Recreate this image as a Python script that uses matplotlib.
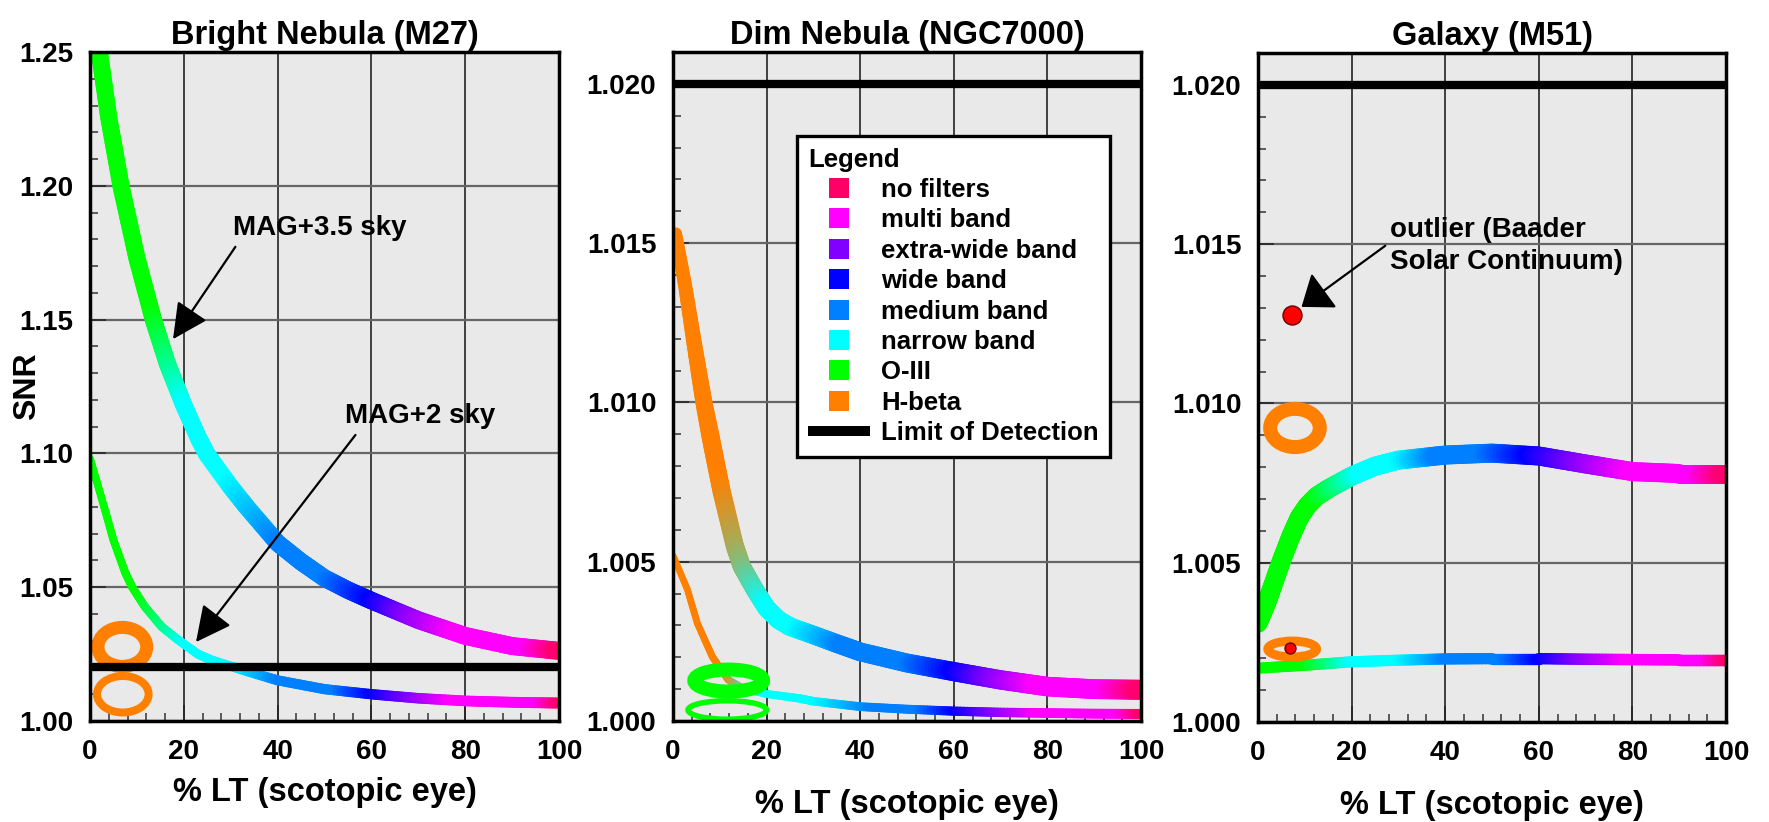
import numpy as np
import matplotlib
matplotlib.use("Agg")
import matplotlib.pyplot as plt
from matplotlib.collections import LineCollection
from matplotlib.patches import Ellipse
from matplotlib.lines import Line2D
from matplotlib.ticker import MultipleLocator, FormatStrFormatter
from matplotlib.colors import to_rgb

plt.rcParams['font.family'] = ['Liberation Sans', 'DejaVu Sans']
plt.rcParams['font.weight'] = 'bold'

# ---------------- data ----------------
titles = ["Bright Nebula (M27)", "Dim Nebula (NGC7000)", "Galaxy (M51)"]
x_label = "% LT (scotopic eye)"
y_label = "SNR"

filter_names = ["no filters", "multi band", "extra-wide band", "wide band",
                "medium band", "narrow band", "O-III", "H-beta"]
filter_keys = ["none", "multi", "extra", "wide", "medium", "narrow", "oiii", "hbeta"]
filter_colors = ["#ff0066", "#ff00ff", "#8000ff", "#0000ff",
                 "#0080ff", "#00ffff", "#00ff00", "#ff8000"]
limit_label = "Limit of Detection"
limit_of_detection = 1.02

# Bright nebula, MAG+3.5 sky (upper) and MAG+2 sky (lower)
bright_hi_x = [0, 2, 4, 6.6, 10, 13.5, 16.5, 20, 23.2, 25, 30, 33.4, 40, 45, 50, 55, 60,
               70, 80, 90, 100]
bright_hi_snr = [1.273, 1.250, 1.2255, 1.200, 1.173, 1.150, 1.1335, 1.118, 1.1055, 1.0995,
                 1.0875, 1.080, 1.0665, 1.0595, 1.0534, 1.0489, 1.0450, 1.0377, 1.0318,
                 1.0280, 1.0262]
bright_lo_x = [0, 3, 5, 7.5, 9, 11.7, 15.3, 18.8, 23, 26, 29, 34, 40, 50, 60, 70, 80, 90, 100]
bright_lo_snr = [1.0982, 1.0801, 1.0676, 1.0555, 1.050, 1.0427, 1.0352, 1.0303, 1.0250,
                 1.0227, 1.0210, 1.0183, 1.0152, 1.0119, 1.0100, 1.0085, 1.0075, 1.0070,
                 1.0067]

# Dim nebula
dim_hi_x = [0.6, 2.6, 4.85, 6.6, 8.6, 10.4, 13.2, 14.7, 17.5, 20, 22.5, 25, 30, 35, 40,
            50, 60, 70, 80, 90, 100]
dim_hi_snr = [1.0153, 1.01366, 1.01156, 1.0100, 1.0085, 1.0072, 1.0055, 1.00485,
              1.00412, 1.00354, 1.00318, 1.00296, 1.0027, 1.00243, 1.00217, 1.00182,
              1.00155, 1.00129, 1.00108, 1.0010, 1.00098]
dim_lo_x = [0, 3.1, 5.2, 8.4, 11.8, 15, 20, 27, 30, 40, 50, 60, 70, 80, 90, 100]
dim_lo_snr = [1.0052, 1.00412, 1.00307, 1.00202, 1.00129, 1.00102, 1.00085, 1.00071,
              1.00062, 1.00045, 1.00037, 1.00031, 1.00027, 1.00025, 1.00023, 1.00022]

# Galaxy
gal_hi_x = [0, 1.85, 3.1, 4.85, 7, 8.8, 10.5, 12.5, 15, 20, 25, 30, 40, 50, 60, 70, 80,
            90, 100]
gal_hi_snr = [1.0031, 1.00374, 1.00426, 1.0050, 1.00582, 1.00641, 1.00678, 1.00708,
              1.00732, 1.00772, 1.00803, 1.00822, 1.00838, 1.00844, 1.00835, 1.0081,
              1.00786, 1.0078, 1.0078]
gal_lo_x = [0, 10, 20, 30, 40, 50, 60, 70, 80, 90, 100]
gal_lo_snr = [1.00169, 1.00178, 1.00189, 1.00194, 1.00198, 1.00199, 1.00199, 1.00197,
              1.00196, 1.00195, 1.00195]

# filter type along each curve (x position, filter key)
bright_hi_filters = [(0, "oiii"), (13, "oiii"), (20, "narrow"), (29, "narrow"), (40, "medium"),
                     (50, "medium"), (60, "wide"), (67, "extra"), (78, "multi"), (93, "multi"), (100, "none")]
bright_lo_filters = [(0, "oiii"), (10, "oiii"), (20, "narrow"), (30, "narrow"), (40, "medium"),
                     (52, "medium"), (60, "wide"), (68, "extra"), (77, "multi"), (95, "multi"), (100, "none")]
dim_hi_filters = [(0, "hbeta"), (10, "hbeta"), (20, "narrow"), (26, "narrow"), (36, "medium"),
                  (50, "medium"), (60, "wide"), (68, "extra"), (78, "multi"), (92, "multi"), (100, "none")]
dim_lo_filters = [(0, "hbeta"), (11, "hbeta"), (17, "narrow"), (30, "narrow"), (42, "medium"),
                  (52, "medium"), (60, "wide"), (68, "extra"), (78, "multi"), (95, "multi"), (100, "none")]
gal_hi_filters = [(0, "oiii"), (12, "oiii"), (22, "narrow"), (30, "narrow"), (38, "medium"),
                  (48, "medium"), (58, "wide"), (68, "extra"), (80, "multi"), (93, "multi"), (100, "none")]
gal_lo_filters = [(0, "oiii"), (10, "oiii"), (20, "narrow"), (30, "narrow"), (40, "medium"),
                  (52, "medium"), (60, "wide"), (68, "extra"), (79, "multi"), (95, "multi"), (100, "none")]

# highlighted points (ring centres) and outlier dots
bright_rings_x = [6.9, 7.0]
bright_rings_snr = [1.0277, 1.0100]
dim_rings_x = [11.9, 11.6]
dim_rings_snr = [1.00127, 1.000346]
gal_rings_x = [7.9, 7.3]
gal_rings_snr = [1.00923, 1.00229]
gal_outlier_x = [7.35, 6.8]
gal_outlier_snr = [1.01279, 1.00232]

# annotations
ann_sky35 = dict(text="MAG+3.5 sky", text_xy=(30.5, 1.1816), start=(31.0, 1.1772), tip=(17.7, 1.1427))
ann_sky2 = dict(text="MAG+2 sky", text_xy=(54.3, 1.1112), start=(56.6, 1.1069), tip=(22.6, 1.0295))
outlier_lines = ["outlier (Baader", "Solar Continuum)"]
outlier_text_x = 28.3
outlier_text_snr = [1.01523, 1.01421]
outlier_arrow_start = (27.2, 1.01495)
outlier_arrow_tip = (9.3, 1.01303)

# ---------------- styling helpers ----------------
W, H = 1769, 822
PT = 72.0 / 100.0  # px -> pt
FCOL = dict(zip(filter_keys, filter_colors))

fig = plt.figure(figsize=(W / 100, H / 100), dpi=100)


def add_axes(l, t, r, b):
    return fig.add_axes([l / W, 1 - b / H, (r - l) / W, (b - t) / H])


def draw_band(ax, xs, ys, stops, widths, nsub=14):
    xs = np.asarray(xs, float)
    ys = np.asarray(ys, float)
    px, py = [], []
    for i in range(len(xs) - 1):
        t = np.linspace(0, 1, nsub, endpoint=False)
        px.extend(xs[i] + (xs[i + 1] - xs[i]) * t)
        py.extend(ys[i] + (ys[i + 1] - ys[i]) * t)
    px.append(xs[-1])
    py.append(ys[-1])
    px = np.array(px)
    py = np.array(py)
    segs = np.stack([np.column_stack([px[:-1], py[:-1]]),
                     np.column_stack([px[1:], py[1:]])], axis=1)
    xm = 0.5 * (px[:-1] + px[1:])
    sx = [s[0] for s in stops]
    rgb = np.array([to_rgb(FCOL[s[1]]) for s in stops])
    cols = np.column_stack([np.interp(xm, sx, rgb[:, k]) for k in range(3)])
    wx = [w[0] for w in widths]
    wv = [w[1] for w in widths]
    lws = np.interp(xm, wx, wv) * PT
    lc = LineCollection(segs, colors=cols, linewidths=lws, capstyle='round',
                        joinstyle='round', zorder=3)
    ax.add_collection(lc)


def ring(ax, x, y, w, h, lw_px, color):
    ax.add_patch(Ellipse((x, y), w, h, fill=False, edgecolor=color,
                         linewidth=lw_px * PT, zorder=4))


def style_axes(ax, ylim, ymaj, ymin, fmt, xlabelpad):
    ax.set_facecolor('#e9e9e9')
    ax.set_xlim(0, 100)
    ax.set_ylim(*ylim)
    ax.xaxis.set_major_locator(MultipleLocator(20))
    ax.xaxis.set_minor_locator(MultipleLocator(4))
    ax.yaxis.set_major_locator(MultipleLocator(ymaj))
    ax.yaxis.set_minor_locator(MultipleLocator(ymin))
    ax.yaxis.set_major_formatter(FormatStrFormatter(fmt))
    ax.tick_params(which='both', direction='in', top=False, right=False)
    ax.tick_params(which='major', length=11.5, width=1.1, color='#222222', labelsize=20)
    ax.tick_params(which='minor', length=5.5, width=1.1, color='#333333')
    ax.tick_params(axis='y', pad=12)
    ax.tick_params(axis='x', pad=13)
    ax.set_axisbelow(True)
    ax.xaxis.grid(True, which='major', color='#333333', lw=1.3)
    ax.yaxis.grid(True, which='major', color='#666666', lw=1.6)
    for s in ax.spines.values():
        s.set_linewidth(2.5)
        s.set_zorder(6)
    ax.set_xlabel(x_label, fontsize=23.5, fontweight='bold', labelpad=xlabelpad)


def arrow(ax, start, tip, hl, hw):
    ax.annotate("", xy=tip, xytext=start,
                arrowprops=dict(arrowstyle=f"-|>,head_length={hl},head_width={hw}",
                                mutation_scale=20, lw=1.6, color='black',
                                shrinkA=0, shrinkB=0), zorder=7)


# ---------------- panel 1 ----------------
ax1 = add_axes(90, 52, 559, 721)
style_axes(ax1, (1.0, 1.25), 0.05, 0.01, '%.2f', 8.5)
ax1.set_title(titles[0], fontsize=23.5, fontweight='bold', pad=6)
ax1.set_ylabel(y_label, fontsize=23, fontweight='bold', va='center')
ax1.yaxis.set_label_coords(-0.1348, 0.5)
draw_band(ax1, bright_hi_x, bright_hi_snr, bright_hi_filters, [(0, 17), (100, 18)])
draw_band(ax1, bright_lo_x, bright_lo_snr, bright_lo_filters, [(0, 7.5), (40, 10), (100, 11)])
ring(ax1, bright_rings_x[0], bright_rings_snr[0], 10.4, 0.01457, 13, FCOL['hbeta'])
ring(ax1, bright_rings_x[1], bright_rings_snr[1], 11.0, 0.01364, 8, FCOL['hbeta'])
ax1.axhline(limit_of_detection, color='black', lw=8.3 * PT, zorder=5)
for a in (ann_sky35, ann_sky2):
    ax1.text(a['text_xy'][0], a['text_xy'][1], a['text'], fontsize=20,
             fontweight='bold', va='baseline', ha='left', zorder=7)
    arrow(ax1, a['start'], a['tip'], 1.1, 0.55)

# ---------------- panel 2 ----------------
ax2 = add_axes(673, 52, 1141, 721)
style_axes(ax2, (1.0, 1.021), 0.005, 0.001, '%.3f', 17)
ax2.set_title(titles[1], fontsize=23.5, fontweight='bold', pad=6)
draw_band(ax2, dim_hi_x, dim_hi_snr, dim_hi_filters, [(0, 12), (8, 18), (100, 20)])
draw_band(ax2, dim_lo_x, dim_lo_snr, dim_lo_filters, [(0, 6.5), (30, 8.5), (100, 10)])
ring(ax2, dim_rings_x[0], dim_rings_snr[0], 14.7, 0.00069, 14, FCOL['oiii'])
ring(ax2, dim_rings_x[1], dim_rings_snr[1], 16.8, 0.00058, 5.5, FCOL['oiii'])
ax2.axhline(limit_of_detection, color='black', lw=8.3 * PT, zorder=5)

handles = [Line2D([], [], ls='none', marker='s', ms=20 * PT, mfc=c, mec=c, mew=0)
           for c in filter_colors]
handles.append(Line2D([], [], color='black', lw=10 * PT, solid_capstyle='butt'))
labels = filter_names + [limit_label]
leg = ax2.legend(handles, labels, title='Legend', loc='upper left',
                 bbox_to_anchor=(0.264, 0.8745), borderaxespad=0, frameon=True,
                 fancybox=False, edgecolor='black', framealpha=1, facecolor='white',
                 fontsize=18.5, title_fontproperties={'weight': 'bold', 'size': 18.5},
                 alignment='left', handlelength=2.41, handletextpad=0.43,
                 borderpad=0.45, labelspacing=0.25)
leg.get_frame().set_linewidth(2.4)
leg.set_zorder(8)

# ---------------- panel 3 ----------------
ax3 = add_axes(1258, 53, 1726, 722)
style_axes(ax3, (1.0, 1.021), 0.005, 0.001, '%.3f', 17)
ax3.set_title(titles[2], fontsize=23.5, fontweight='bold', pad=6)
draw_band(ax3, gal_hi_x, gal_hi_snr, gal_hi_filters, [(0, 19), (100, 19)])
draw_band(ax3, gal_lo_x, gal_lo_snr, gal_lo_filters, [(0, 11), (100, 11.5)])
ring(ax3, gal_rings_x[0], gal_rings_snr[0], 10.6, 0.0012, 14, FCOL['hbeta'])
ring(ax3, gal_rings_x[1], gal_rings_snr[1], 10.4, 0.0005, 9, FCOL['hbeta'])
ax3.plot(gal_outlier_x[:1], gal_outlier_snr[:1], 'o', ms=19 * PT, mfc='#ff0000',
         mec='#6a0000', mew=1, zorder=6)
ax3.plot(gal_outlier_x[1:], gal_outlier_snr[1:], 'o', ms=11 * PT, mfc='#ff0000',
         mec='#6a0000', mew=1, zorder=6)
ax3.axhline(limit_of_detection, color='black', lw=8.3 * PT, zorder=5)
for line, yv in zip(outlier_lines, outlier_text_snr):
    ax3.text(outlier_text_x, yv, line, fontsize=20, fontweight='bold',
             va='baseline', ha='left', zorder=7)
arrow(ax3, outlier_arrow_start, outlier_arrow_tip, 0.9, 0.68)

fig.savefig('out.png', dpi=100, facecolor='white')
